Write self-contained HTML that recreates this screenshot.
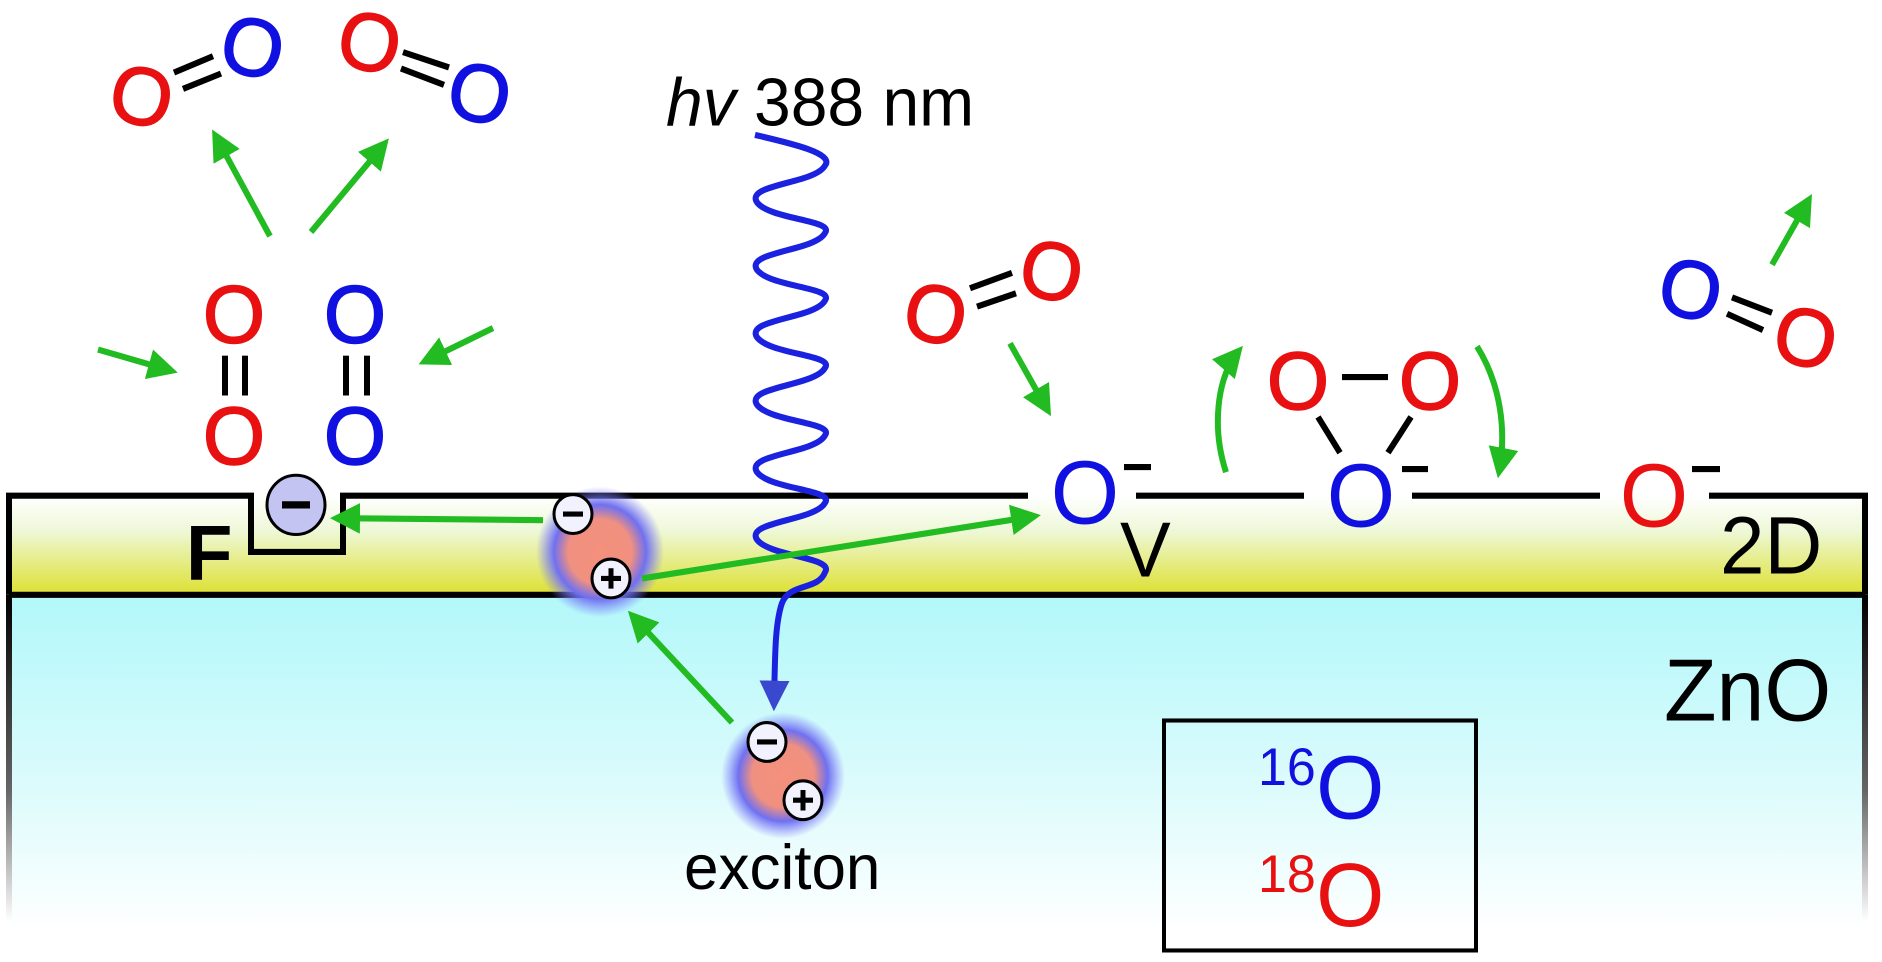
<!DOCTYPE html>
<html><head><meta charset="utf-8"><style>
html,body{margin:0;padding:0;background:#fff;}
svg{display:block;}
text{font-family:"Liberation Sans",sans-serif;}
</style></head><body>
<svg width="1882" height="962" viewBox="0 0 1882 962" xmlns="http://www.w3.org/2000/svg">
<defs>
<linearGradient id="g2d" x1="0" y1="0" x2="0" y2="1">
<stop offset="0" stop-color="#ffffff"/><stop offset="0.35" stop-color="#eef8d8"/><stop offset="1" stop-color="#dde030"/>
</linearGradient>
<linearGradient id="gzn" x1="0" y1="0" x2="0" y2="1">
<stop offset="0" stop-color="#b2f8fa"/><stop offset="0.6" stop-color="#dffbfc"/><stop offset="1" stop-color="#ffffff"/>
</linearGradient>
<linearGradient id="gedge" x1="0" y1="0" x2="0" y2="1">
<stop offset="0" stop-color="#000"/><stop offset="0.6" stop-color="#666"/><stop offset="1" stop-color="#fff"/>
</linearGradient>
<radialGradient id="exc">
<stop offset="0" stop-color="#f4907c"/><stop offset="0.5" stop-color="#f09080"/><stop offset="0.72" stop-color="#7070f0"/><stop offset="1" stop-color="#8080ff" stop-opacity="0"/>
</radialGradient>
<marker id="ag" viewBox="0 0 10 10" refX="8" refY="5" markerWidth="5" markerHeight="5" orient="auto-start-reverse">
<path d="M0,0 L10,5 L0,10 z" fill="#22bb22"/></marker>
<marker id="ab" viewBox="0 0 10 10" refX="8" refY="5" markerWidth="5" markerHeight="5" orient="auto">
<path d="M0,0 L10,5 L0,10 z" fill="#3a48d0"/></marker>
</defs>
<g transform="scale(1,1.022)">
<rect x="9" y="485" width="1856" height="97" fill="url(#g2d)"/>
<rect x="9" y="582" width="1856" height="330" fill="url(#gzn)"/>
<rect x="6" y="582" width="6" height="320" fill="url(#gedge)"/>
<rect x="1862" y="582" width="6" height="320" fill="url(#gedge)"/>
<path d="M9,582 V485 H251 V540 H343 V485 H1028 M1136,485 H1304 M1412,485 H1600 M1709,485 H1865 V582 M9,582 H1865" fill="none" stroke="#000" stroke-width="6"/>
<rect x="1164" y="705" width="312" height="225" fill="none" stroke="#000" stroke-width="4"/>

<g fill="#000">
<text x="186" y="567" font-size="76" font-weight="bold">F</text>
<text x="1120" y="564" font-size="76">V</text>
<text x="1720" y="561" font-size="80">2D</text>
<text x="1664" y="705" font-size="86">ZnO</text>
<text x="666" y="123" font-size="66"><tspan font-style="italic">hv</tspan> 388 nm</text>
<text x="684" y="870" font-size="62">exciton</text>
</g>
<text x="1258" y="768" font-size="52" fill="#1010e0">16</text>
<text x="1316" y="801" font-size="88" fill="#1010e0">O</text>
<text x="1258" y="873" font-size="52" fill="#e81010">18</text>
<text x="1316" y="906" font-size="88" fill="#e81010">O</text>

<path d="M755,132 C790,140 835,150 825,162 C815,180 745,180 757,198 C770,215 835,215 825,228 C815,246 745,246 757,264 C770,281 835,281 825,294 C815,312 745,312 757,330 C770,347 835,347 825,360 C815,378 745,378 757,396 C770,413 835,413 825,426 C815,444 745,444 757,462 C770,479 835,479 825,492 C815,510 745,510 757,528 C770,545 835,545 825,560 C818,578 790,570 782,590 C775,610 775,640 774,690" fill="none" stroke="#1a22e0" stroke-width="6" marker-end="url(#ab)"/>

<circle cx="600" cy="540" r="64" fill="url(#exc)"/>
<circle cx="783" cy="759" r="62" fill="url(#exc)"/>
<g stroke="#000" stroke-width="3" fill="#f2f2ff">
<circle cx="573" cy="503" r="19"/><circle cx="611" cy="566" r="19"/>
<circle cx="767" cy="726" r="19"/><circle cx="803" cy="783" r="19"/>
<circle cx="296" cy="494" r="29" fill="#c4c4f2"/>
</g>
<g stroke="#000" stroke-width="5">
<path d="M563,503 H583 M601,566 H621 M611,556 V576 M757,726 H777 M793,783 H813 M803,773 V793"/>
<path d="M282,494 H310" stroke-width="7"/>
</g>

<g stroke="#22bb22" stroke-width="6" fill="none" marker-end="url(#ag)">
<line x1="543" y1="509" x2="336" y2="507"/>
<line x1="642" y1="566" x2="1035" y2="505"/>
<line x1="732" y1="707" x2="632" y2="602"/>
<line x1="270" y1="231" x2="215" y2="132"/>
<line x1="311" y1="227" x2="385" y2="140"/>
<line x1="98" y1="342" x2="172" y2="363"/>
<line x1="493" y1="321" x2="424" y2="354"/>
<line x1="1010" y1="336" x2="1048" y2="402"/>
<line x1="1772" y1="259" x2="1809" y2="195"/>
<path d="M1226,462 C1212,420 1216,370 1239,343"/>
<path d="M1477,339 C1500,375 1507,420 1499,462"/>
</g>

<g stroke="#000" stroke-width="6">
<line x1="174" y1="71" x2="213" y2="55"/><line x1="183" y1="87" x2="221" y2="72"/>
<line x1="403" y1="51" x2="449" y2="66"/><line x1="401" y1="67" x2="444" y2="83"/>
<line x1="225" y1="348" x2="225" y2="387"/><line x1="245" y1="348" x2="245" y2="387"/>
<line x1="346" y1="348" x2="346" y2="387"/><line x1="367" y1="348" x2="367" y2="387"/>
<line x1="970" y1="282" x2="1012" y2="267"/><line x1="977" y1="300" x2="1016" y2="287"/>
<line x1="1342" y1="369" x2="1388" y2="369"/>
<line x1="1318" y1="408" x2="1340" y2="443"/><line x1="1411" y1="408" x2="1388" y2="443"/>
<line x1="1732" y1="291" x2="1772" y2="306"/><line x1="1727" y1="307" x2="1763" y2="323"/>
<line x1="1124" y1="457" x2="1151" y2="457"/><line x1="1402" y1="459" x2="1428" y2="459"/><line x1="1692" y1="459" x2="1720" y2="459"/>
</g>

<g font-size="80" text-anchor="middle" stroke-width="1.5">
<text x="142" y="122" fill="#e81010" stroke="#e81010" transform="rotate(12 142 93)">O</text>
<text x="253" y="74" fill="#1010e0" stroke="#1010e0" transform="rotate(12 253 45)">O</text>
<text x="370" y="69" fill="#e81010" stroke="#e81010" transform="rotate(12 370 40)">O</text>
<text x="480" y="119" fill="#1010e0" stroke="#1010e0" transform="rotate(12 480 90)">O</text>
<text x="234" y="335" fill="#e81010" stroke="#e81010">O</text>
<text x="234" y="454" fill="#e81010" stroke="#e81010">O</text>
<text x="355" y="335" fill="#1010e0" stroke="#1010e0">O</text>
<text x="355" y="454" fill="#1010e0" stroke="#1010e0">O</text>
<text x="936" y="335" fill="#e81010" stroke="#e81010" transform="rotate(12 936 306)">O</text>
<text x="1052" y="293" fill="#e81010" stroke="#e81010" transform="rotate(12 1052 264)">O</text>
<text x="1298" y="400" fill="#e81010" stroke="#e81010">O</text>
<text x="1430" y="400" fill="#e81010" stroke="#e81010">O</text>
<text x="1691" y="311" fill="#1010e0" stroke="#1010e0" transform="rotate(12 1691 282)">O</text>
<text x="1806" y="358" fill="#e81010" stroke="#e81010" transform="rotate(12 1806 329)">O</text>
</g>
<g font-size="88" text-anchor="middle">
<text x="1085" y="512" fill="#1010e0">O</text>
<text x="1361" y="515" fill="#1010e0">O</text>
<text x="1654" y="515" fill="#e81010">O</text>
</g>
</g>
</svg>
</body></html>
